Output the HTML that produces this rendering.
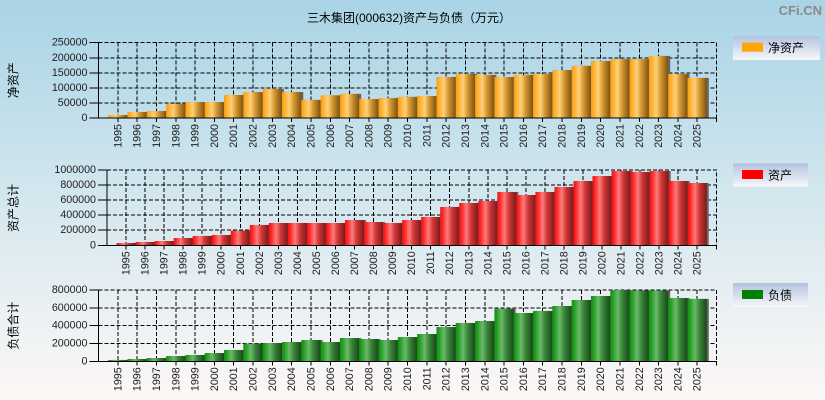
<!DOCTYPE html>
<html><head><meta charset="utf-8"><style>
html,body{margin:0;padding:0;width:825px;height:400px;overflow:hidden;}
svg{display:block;font-family:"Liberation Sans","Noto Sans CJK SC",sans-serif;}
.yl{font-size:10.7px;fill:#1e1e1e;text-anchor:end;dominant-baseline:central;}
.xl text{font-size:10.7px;fill:#1e1e1e;text-anchor:end;}
.grid{stroke:#000;stroke-width:1;stroke-dasharray:4 2;fill:none;}
.ax{stroke:#000;stroke-width:1;fill:none;}
</style></head><body>
<svg width="825" height="400" viewBox="0 0 825 400" xmlns="http://www.w3.org/2000/svg" shape-rendering="auto">
<defs>
<linearGradient id="bg" x1="0" y1="0" x2="0" y2="1">
<stop offset="0" stop-color="#a9d4e5"/><stop offset="0.5" stop-color="#d4e7ef"/><stop offset="1" stop-color="#fdf8f6"/>
</linearGradient>
<linearGradient id="lg" x1="0" y1="0" x2="0" y2="1">
<stop offset="0" stop-color="#b3c3de"/><stop offset="1" stop-color="#f7f7fa"/>
</linearGradient>
<linearGradient id="go" x1="0" y1="0" x2="1" y2="0">
<stop offset="0" stop-color="#f29c18"/><stop offset="0.1" stop-color="#ffab22"/><stop offset="0.38" stop-color="#ffd07a"/><stop offset="0.62" stop-color="#d4962e"/><stop offset="1" stop-color="#7a5213"/>
</linearGradient>
<linearGradient id="gr" x1="0" y1="0" x2="1" y2="0">
<stop offset="0" stop-color="#dc1c1c"/><stop offset="0.1" stop-color="#ff1d1d"/><stop offset="0.38" stop-color="#ff7a7a"/><stop offset="0.62" stop-color="#d03636"/><stop offset="1" stop-color="#7a1a1a"/>
</linearGradient>
<linearGradient id="gg" x1="0" y1="0" x2="1" y2="0">
<stop offset="0" stop-color="#138f13"/><stop offset="0.1" stop-color="#1a9c1a"/><stop offset="0.38" stop-color="#6cb86c"/><stop offset="0.62" stop-color="#378637"/><stop offset="1" stop-color="#1a461a"/>
</linearGradient>
<g id="b1">
<rect x="0.5" y="0" width="1" height="10"/><rect x="1.5" y="0" width="1" height="20"/><rect x="2.5" y="0" width="1" height="23"/><rect x="3.5" y="0" width="1" height="47.5"/><rect x="4.5" y="0" width="1" height="53"/><rect x="5.5" y="0" width="1" height="53"/><rect x="6.5" y="0" width="1" height="76"/><rect x="7.5" y="0" width="1" height="86"/><rect x="8.5" y="0" width="1" height="96"/><rect x="9.5" y="0" width="1" height="86"/><rect x="10.5" y="0" width="1" height="60"/><rect x="11.5" y="0" width="1" height="75"/><rect x="12.5" y="0" width="1" height="80"/><rect x="13.5" y="0" width="1" height="63"/><rect x="14.5" y="0" width="1" height="66"/><rect x="15.5" y="0" width="1" height="70"/><rect x="16.5" y="0" width="1" height="73"/><rect x="17.5" y="0" width="1" height="136"/><rect x="18.5" y="0" width="1" height="146"/><rect x="19.5" y="0" width="1" height="143"/><rect x="20.5" y="0" width="1" height="136"/><rect x="21.5" y="0" width="1" height="143"/><rect x="22.5" y="0" width="1" height="146"/><rect x="23.5" y="0" width="1" height="159"/><rect x="24.5" y="0" width="1" height="173"/><rect x="25.5" y="0" width="1" height="189"/><rect x="26.5" y="0" width="1" height="195"/><rect x="27.5" y="0" width="1" height="195"/><rect x="28.5" y="0" width="1" height="206"/><rect x="29.5" y="0" width="1" height="146"/><rect x="30.5" y="0" width="1" height="133"/>
</g>
<g id="b2">
<rect x="0.5" y="0" width="1" height="30"/><rect x="1.5" y="0" width="1" height="44"/><rect x="2.5" y="0" width="1" height="57"/><rect x="3.5" y="0" width="1" height="97"/><rect x="4.5" y="0" width="1" height="124"/><rect x="5.5" y="0" width="1" height="137"/><rect x="6.5" y="0" width="1" height="194"/><rect x="7.5" y="0" width="1" height="270"/><rect x="8.5" y="0" width="1" height="296"/><rect x="9.5" y="0" width="1" height="296"/><rect x="10.5" y="0" width="1" height="296"/><rect x="11.5" y="0" width="1" height="296"/><rect x="12.5" y="0" width="1" height="336"/><rect x="13.5" y="0" width="1" height="309"/><rect x="14.5" y="0" width="1" height="296"/><rect x="15.5" y="0" width="1" height="336"/><rect x="16.5" y="0" width="1" height="376"/><rect x="17.5" y="0" width="1" height="509"/><rect x="18.5" y="0" width="1" height="562"/><rect x="19.5" y="0" width="1" height="588"/><rect x="20.5" y="0" width="1" height="708"/><rect x="21.5" y="0" width="1" height="668"/><rect x="22.5" y="0" width="1" height="708"/><rect x="23.5" y="0" width="1" height="774"/><rect x="24.5" y="0" width="1" height="854"/><rect x="25.5" y="0" width="1" height="920"/><rect x="26.5" y="0" width="1" height="987"/><rect x="27.5" y="0" width="1" height="973"/><rect x="28.5" y="0" width="1" height="987"/><rect x="29.5" y="0" width="1" height="854"/><rect x="30.5" y="0" width="1" height="827"/>
</g>
<g id="b3">
<rect x="0.5" y="0" width="1" height="15"/><rect x="1.5" y="0" width="1" height="26"/><rect x="2.5" y="0" width="1" height="37"/><rect x="3.5" y="0" width="1" height="59"/><rect x="4.5" y="0" width="1" height="71"/><rect x="5.5" y="0" width="1" height="93"/><rect x="6.5" y="0" width="1" height="127"/><rect x="7.5" y="0" width="1" height="198"/><rect x="8.5" y="0" width="1" height="205"/><rect x="9.5" y="0" width="1" height="216"/><rect x="10.5" y="0" width="1" height="239"/><rect x="11.5" y="0" width="1" height="216"/><rect x="12.5" y="0" width="1" height="261"/><rect x="13.5" y="0" width="1" height="250"/><rect x="14.5" y="0" width="1" height="239"/><rect x="15.5" y="0" width="1" height="272"/><rect x="16.5" y="0" width="1" height="306"/><rect x="17.5" y="0" width="1" height="385"/><rect x="18.5" y="0" width="1" height="430"/><rect x="19.5" y="0" width="1" height="452"/><rect x="20.5" y="0" width="1" height="590"/><rect x="21.5" y="0" width="1" height="542"/><rect x="22.5" y="0" width="1" height="565"/><rect x="23.5" y="0" width="1" height="620"/><rect x="24.5" y="0" width="1" height="688"/><rect x="25.5" y="0" width="1" height="733"/><rect x="26.5" y="0" width="1" height="800"/><rect x="27.5" y="0" width="1" height="795"/><rect x="28.5" y="0" width="1" height="795"/><rect x="29.5" y="0" width="1" height="710"/><rect x="30.5" y="0" width="1" height="700"/>
</g>
</defs>

<rect x="0" y="0" width="825" height="400" fill="url(#bg)"/>

<!-- title & watermark -->
<text x="409" y="22" font-size="12" fill="#000" text-anchor="middle">三木集团(000632)资产与负债（万元）</text>
<text x="822" y="15" font-size="13" font-weight="bold" fill="#8a8a8a" text-anchor="end">CFi.CN</text>

<!-- ================= CHART 1 ================= -->
<g shape-rendering="crispEdges">
<path class="grid" d="M98.5 42.7H716.5V118 M98.5 57.76H716.5 M98.5 72.82H716.5 M98.5 87.88H716.5 M98.5 102.94H716.5"/>
<path class="grid" d="M117.81 42.7V118M137.13 42.7V118M156.44 42.7V118M175.75 42.7V118M195.06 42.7V118M214.38 42.7V118M233.69 42.7V118M253 42.7V118M272.31 42.7V118M291.63 42.7V118M310.94 42.7V118M330.25 42.7V118M349.56 42.7V118M368.88 42.7V118M388.19 42.7V118M407.5 42.7V118M426.81 42.7V118M446.13 42.7V118M465.44 42.7V118M484.75 42.7V118M504.06 42.7V118M523.38 42.7V118M542.69 42.7V118M562 42.7V118M581.31 42.7V118M600.63 42.7V118M619.94 42.7V118M639.25 42.7V118M658.56 42.7V118M677.88 42.7V118M697.19 42.7V118"/>
</g>
<g transform="translate(98.5,118) scale(19.3125,-0.3012)">
<use href="#b1" x="0.1036" fill="#666"/>
<use href="#b1" fill="url(#go)"/>
</g>
<g shape-rendering="crispEdges">
<path class="ax" d="M98.5 42.7V118H716.5V122 M89.5 42.7H98.5 M89.5 57.76H98.5 M89.5 72.82H98.5 M89.5 87.88H98.5 M89.5 102.94H98.5 M89.5 118H98.5"/>
<path class="ax" d="M117.81 118v4M137.13 118v4M156.44 118v4M175.75 118v4M195.06 118v4M214.38 118v4M233.69 118v4M253 118v4M272.31 118v4M291.63 118v4M310.94 118v4M330.25 118v4M349.56 118v4M368.88 118v4M388.19 118v4M407.5 118v4M426.81 118v4M446.13 118v4M465.44 118v4M484.75 118v4M504.06 118v4M523.38 118v4M542.69 118v4M562 118v4M581.31 118v4M600.63 118v4M619.94 118v4M639.25 118v4M658.56 118v4M677.88 118v4M697.19 118v4"/>
</g>
<text class="yl" x="87.5" y="42.7">250000</text>
<text class="yl" x="87.5" y="57.76">200000</text>
<text class="yl" x="87.5" y="72.82">150000</text>
<text class="yl" x="87.5" y="87.88">100000</text>
<text class="yl" x="87.5" y="102.94">50000</text>
<text class="yl" x="87.5" y="118">0</text>
<text font-size="12" fill="#000" text-anchor="middle" transform="translate(17.5,80.3) rotate(-90)">净资产</text>
<g class="xl" transform="translate(0,118)">
<text transform="translate(121.31,6) rotate(-90)">1995</text><text transform="translate(140.63,6) rotate(-90)">1996</text><text transform="translate(159.94,6) rotate(-90)">1997</text><text transform="translate(179.25,6) rotate(-90)">1998</text><text transform="translate(198.56,6) rotate(-90)">1999</text><text transform="translate(217.88,6) rotate(-90)">2000</text><text transform="translate(237.19,6) rotate(-90)">2001</text><text transform="translate(256.5,6) rotate(-90)">2002</text><text transform="translate(275.81,6) rotate(-90)">2003</text><text transform="translate(295.13,6) rotate(-90)">2004</text><text transform="translate(314.44,6) rotate(-90)">2005</text><text transform="translate(333.75,6) rotate(-90)">2006</text><text transform="translate(353.06,6) rotate(-90)">2007</text><text transform="translate(372.38,6) rotate(-90)">2008</text><text transform="translate(391.69,6) rotate(-90)">2009</text><text transform="translate(411,6) rotate(-90)">2010</text><text transform="translate(430.31,6) rotate(-90)">2011</text><text transform="translate(449.63,6) rotate(-90)">2012</text><text transform="translate(468.94,6) rotate(-90)">2013</text><text transform="translate(488.25,6) rotate(-90)">2014</text><text transform="translate(507.56,6) rotate(-90)">2015</text><text transform="translate(526.88,6) rotate(-90)">2016</text><text transform="translate(546.19,6) rotate(-90)">2017</text><text transform="translate(565.5,6) rotate(-90)">2018</text><text transform="translate(584.81,6) rotate(-90)">2019</text><text transform="translate(604.13,6) rotate(-90)">2020</text><text transform="translate(623.44,6) rotate(-90)">2021</text><text transform="translate(642.75,6) rotate(-90)">2022</text><text transform="translate(662.06,6) rotate(-90)">2023</text><text transform="translate(681.38,6) rotate(-90)">2024</text><text transform="translate(700.69,6) rotate(-90)">2025</text>
</g>
<rect x="733" y="36" width="87" height="24" fill="url(#lg)"/>
<rect x="742" y="42.7" width="21" height="9" fill="#ffa500"/>
<text x="768" y="52" font-size="12" fill="#000">净资产</text>

<!-- ================= CHART 2 ================= -->
<g shape-rendering="crispEdges">
<path class="grid" d="M107 170H716.3V245.3 M107 185.06H716.3 M107 200.12H716.3 M107 215.18H716.3 M107 230.24H716.3"/>
<path class="grid" d="M126.04 170V245.3M145.08 170V245.3M164.12 170V245.3M183.16 170V245.3M202.2 170V245.3M221.24 170V245.3M240.28 170V245.3M259.32 170V245.3M278.36 170V245.3M297.4 170V245.3M316.44 170V245.3M335.48 170V245.3M354.52 170V245.3M373.56 170V245.3M392.6 170V245.3M411.64 170V245.3M430.68 170V245.3M449.72 170V245.3M468.76 170V245.3M487.8 170V245.3M506.84 170V245.3M525.88 170V245.3M544.92 170V245.3M563.96 170V245.3M583 170V245.3M602.04 170V245.3M621.08 170V245.3M640.12 170V245.3M659.16 170V245.3M678.2 170V245.3M697.24 170V245.3"/>
</g>
<g transform="translate(107,245.3) scale(19.04,-0.0753)">
<use href="#b2" x="0.105" fill="#666"/>
<use href="#b2" fill="url(#gr)"/>
</g>
<g shape-rendering="crispEdges">
<path class="ax" d="M107 170V245.3H716.3V249.3 M98 170H107 M98 185.06H107 M98 200.12H107 M98 215.18H107 M98 230.24H107 M98 245.3H107"/>
<path class="ax" d="M126.04 245.3v4M145.08 245.3v4M164.12 245.3v4M183.16 245.3v4M202.2 245.3v4M221.24 245.3v4M240.28 245.3v4M259.32 245.3v4M278.36 245.3v4M297.4 245.3v4M316.44 245.3v4M335.48 245.3v4M354.52 245.3v4M373.56 245.3v4M392.6 245.3v4M411.64 245.3v4M430.68 245.3v4M449.72 245.3v4M468.76 245.3v4M487.8 245.3v4M506.84 245.3v4M525.88 245.3v4M544.92 245.3v4M563.96 245.3v4M583 245.3v4M602.04 245.3v4M621.08 245.3v4M640.12 245.3v4M659.16 245.3v4M678.2 245.3v4M697.24 245.3v4"/>
</g>
<text class="yl" x="96" y="170">1000000</text>
<text class="yl" x="96" y="185.06">800000</text>
<text class="yl" x="96" y="200.12">600000</text>
<text class="yl" x="96" y="215.18">400000</text>
<text class="yl" x="96" y="230.24">200000</text>
<text class="yl" x="96" y="245.3">0</text>
<text font-size="12" fill="#000" text-anchor="middle" transform="translate(17.5,208) rotate(-90)">资产总计</text>
<g class="xl" transform="translate(0,245.3)">
<text transform="translate(129.54,6) rotate(-90)">1995</text><text transform="translate(148.58,6) rotate(-90)">1996</text><text transform="translate(167.62,6) rotate(-90)">1997</text><text transform="translate(186.66,6) rotate(-90)">1998</text><text transform="translate(205.7,6) rotate(-90)">1999</text><text transform="translate(224.74,6) rotate(-90)">2000</text><text transform="translate(243.78,6) rotate(-90)">2001</text><text transform="translate(262.82,6) rotate(-90)">2002</text><text transform="translate(281.86,6) rotate(-90)">2003</text><text transform="translate(300.9,6) rotate(-90)">2004</text><text transform="translate(319.94,6) rotate(-90)">2005</text><text transform="translate(338.98,6) rotate(-90)">2006</text><text transform="translate(358.02,6) rotate(-90)">2007</text><text transform="translate(377.06,6) rotate(-90)">2008</text><text transform="translate(396.1,6) rotate(-90)">2009</text><text transform="translate(415.14,6) rotate(-90)">2010</text><text transform="translate(434.18,6) rotate(-90)">2011</text><text transform="translate(453.22,6) rotate(-90)">2012</text><text transform="translate(472.26,6) rotate(-90)">2013</text><text transform="translate(491.3,6) rotate(-90)">2014</text><text transform="translate(510.34,6) rotate(-90)">2015</text><text transform="translate(529.38,6) rotate(-90)">2016</text><text transform="translate(548.42,6) rotate(-90)">2017</text><text transform="translate(567.46,6) rotate(-90)">2018</text><text transform="translate(586.5,6) rotate(-90)">2019</text><text transform="translate(605.54,6) rotate(-90)">2020</text><text transform="translate(624.58,6) rotate(-90)">2021</text><text transform="translate(643.62,6) rotate(-90)">2022</text><text transform="translate(662.66,6) rotate(-90)">2023</text><text transform="translate(681.7,6) rotate(-90)">2024</text><text transform="translate(700.74,6) rotate(-90)">2025</text>
</g>
<rect x="733" y="163.3" width="75" height="23.4" fill="url(#lg)"/>
<rect x="742" y="170" width="21" height="9" fill="#ff0000"/>
<text x="768" y="179.5" font-size="12" fill="#000">资产</text>

<!-- ================= CHART 3 ================= -->
<g shape-rendering="crispEdges">
<path class="grid" d="M98.5 290H716.5V361.3 M98.5 307.83H716.5 M98.5 325.65H716.5 M98.5 343.48H716.5"/>
<path class="grid" d="M117.81 290V361.3M137.13 290V361.3M156.44 290V361.3M175.75 290V361.3M195.06 290V361.3M214.38 290V361.3M233.69 290V361.3M253 290V361.3M272.31 290V361.3M291.63 290V361.3M310.94 290V361.3M330.25 290V361.3M349.56 290V361.3M368.88 290V361.3M388.19 290V361.3M407.5 290V361.3M426.81 290V361.3M446.13 290V361.3M465.44 290V361.3M484.75 290V361.3M504.06 290V361.3M523.38 290V361.3M542.69 290V361.3M562 290V361.3M581.31 290V361.3M600.63 290V361.3M619.94 290V361.3M639.25 290V361.3M658.56 290V361.3M677.88 290V361.3M697.19 290V361.3"/>
</g>
<g transform="translate(98.5,361.3) scale(19.3125,-0.0891)">
<use href="#b3" x="0.1036" fill="#666"/>
<use href="#b3" fill="url(#gg)"/>
</g>
<g shape-rendering="crispEdges">
<path class="ax" d="M98.5 290V361.3H716.5V365.3 M89.5 290H98.5 M89.5 307.83H98.5 M89.5 325.65H98.5 M89.5 343.48H98.5 M89.5 361.3H98.5"/>
<path class="ax" d="M117.81 361.3v4M137.13 361.3v4M156.44 361.3v4M175.75 361.3v4M195.06 361.3v4M214.38 361.3v4M233.69 361.3v4M253 361.3v4M272.31 361.3v4M291.63 361.3v4M310.94 361.3v4M330.25 361.3v4M349.56 361.3v4M368.88 361.3v4M388.19 361.3v4M407.5 361.3v4M426.81 361.3v4M446.13 361.3v4M465.44 361.3v4M484.75 361.3v4M504.06 361.3v4M523.38 361.3v4M542.69 361.3v4M562 361.3v4M581.31 361.3v4M600.63 361.3v4M619.94 361.3v4M639.25 361.3v4M658.56 361.3v4M677.88 361.3v4M697.19 361.3v4"/>
</g>
<text class="yl" x="87.5" y="290">800000</text>
<text class="yl" x="87.5" y="307.83">600000</text>
<text class="yl" x="87.5" y="325.65">400000</text>
<text class="yl" x="87.5" y="343.48">200000</text>
<text class="yl" x="87.5" y="361.3">0</text>
<text font-size="12" fill="#000" text-anchor="middle" transform="translate(17.5,325.7) rotate(-90)">负债合计</text>
<g class="xl" transform="translate(0,361.3)">
<text transform="translate(121.31,6) rotate(-90)">1995</text><text transform="translate(140.63,6) rotate(-90)">1996</text><text transform="translate(159.94,6) rotate(-90)">1997</text><text transform="translate(179.25,6) rotate(-90)">1998</text><text transform="translate(198.56,6) rotate(-90)">1999</text><text transform="translate(217.88,6) rotate(-90)">2000</text><text transform="translate(237.19,6) rotate(-90)">2001</text><text transform="translate(256.5,6) rotate(-90)">2002</text><text transform="translate(275.81,6) rotate(-90)">2003</text><text transform="translate(295.13,6) rotate(-90)">2004</text><text transform="translate(314.44,6) rotate(-90)">2005</text><text transform="translate(333.75,6) rotate(-90)">2006</text><text transform="translate(353.06,6) rotate(-90)">2007</text><text transform="translate(372.38,6) rotate(-90)">2008</text><text transform="translate(391.69,6) rotate(-90)">2009</text><text transform="translate(411,6) rotate(-90)">2010</text><text transform="translate(430.31,6) rotate(-90)">2011</text><text transform="translate(449.63,6) rotate(-90)">2012</text><text transform="translate(468.94,6) rotate(-90)">2013</text><text transform="translate(488.25,6) rotate(-90)">2014</text><text transform="translate(507.56,6) rotate(-90)">2015</text><text transform="translate(526.88,6) rotate(-90)">2016</text><text transform="translate(546.19,6) rotate(-90)">2017</text><text transform="translate(565.5,6) rotate(-90)">2018</text><text transform="translate(584.81,6) rotate(-90)">2019</text><text transform="translate(604.13,6) rotate(-90)">2020</text><text transform="translate(623.44,6) rotate(-90)">2021</text><text transform="translate(642.75,6) rotate(-90)">2022</text><text transform="translate(662.06,6) rotate(-90)">2023</text><text transform="translate(681.38,6) rotate(-90)">2024</text><text transform="translate(700.69,6) rotate(-90)">2025</text>
</g>
<rect x="733" y="283" width="75" height="24" fill="url(#lg)"/>
<rect x="742" y="290" width="21" height="9" fill="#008000"/>
<text x="768" y="299.5" font-size="12" fill="#000">负债</text>
</svg>
</body></html>
